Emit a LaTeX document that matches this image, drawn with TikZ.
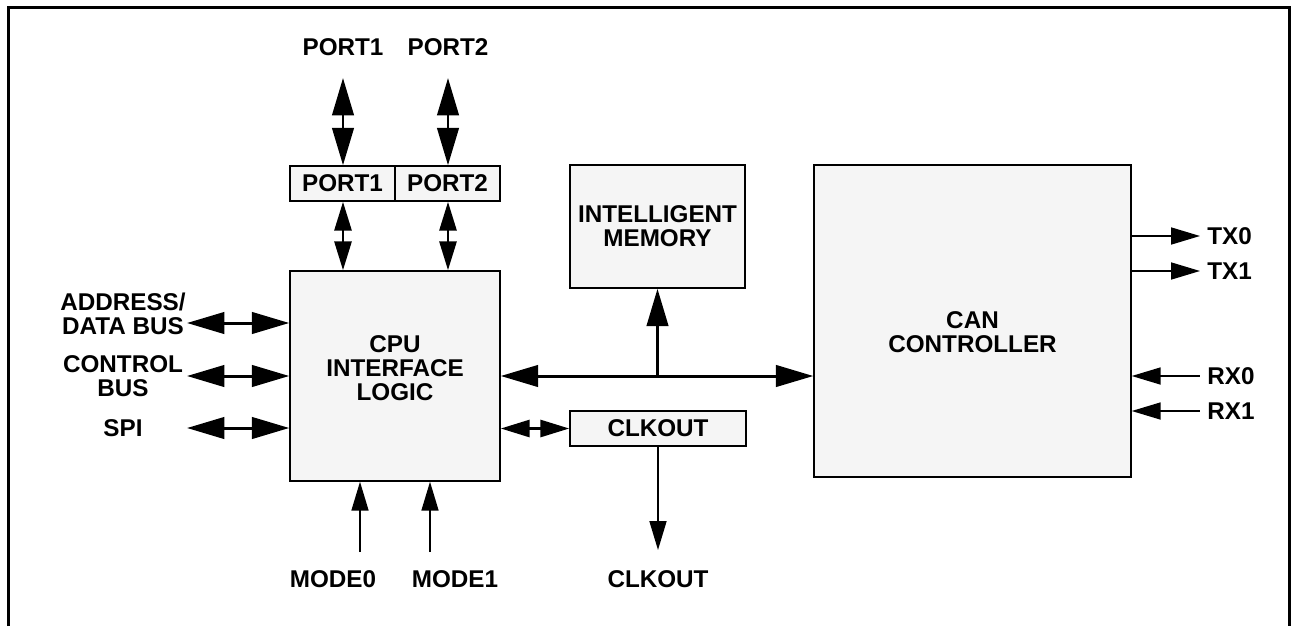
\documentclass[tikz,border=0pt]{standalone}
\usepackage{fontspec}
\setmainfont{Liberation Sans}
\usetikzlibrary{arrows.meta}
\definecolor{boxfill}{RGB}{245,245,245}

\begin{document}
\begin{tikzpicture}[x=0.02cm,y=-0.02cm,
  txt/.style={font=\fontsize{13.8}{13.66}\selectfont\bfseries,align=center,inner sep=0pt},
  blk/.style={txt,draw,line width=0.85pt,fill=boxfill},
  thk/.style={line width=1.7pt},
  thn/.style={line width=1pt},
  Big/.tip={Triangle[length=0.75cm,width=0.43cm]},
  Sml/.tip={Triangle[length=0.58cm,width=0.34cm]}]
\useasboundingbox (0,0) rectangle (1292,626);
\draw[line width=0.06cm] (8.5,626) -- (8.5,7.5) -- (1289.5,7.5) -- (1289.5,626);

\node[blk,minimum width=2.1cm,minimum height=0.7cm] (p1) at (342.5,183.5) {PORT1};
\node[blk,minimum width=2.1cm,minimum height=0.7cm] (p2) at (447.5,183.5) {PORT2};
\node[blk,minimum width=4.2cm,minimum height=4.2cm] (cpu) at (395,376) {};
\node[txt] (cpulbl) at (395,368) {CPU\\INTERFACE\\LOGIC};
\node[blk,minimum width=3.5cm,minimum height=2.46cm] (mem) at (657.5,226.5) {INTELLIGENT\\MEMORY};
\node[blk,minimum width=3.52cm,minimum height=0.7cm] (clk) at (658,428.5) {CLKOUT};
\node[blk,minimum width=6.34cm,minimum height=6.24cm] (can) at (972.5,321) {};
\node[txt] (canlbl) at (972.5,332) {CAN\\CONTROLLER};

\node[txt] (l1) at (343,47) {PORT1};
\node[txt] (l2) at (448,47) {PORT2};
\coordinate (t1) at (343,78);
\coordinate (t2) at (448,78);
\draw[thk,Big-Big] (t1) -- (p1.north -| t1);
\draw[thk,Big-Big] (t2) -- (p2.north -| t2);
\draw[thk,Sml-Sml] (p1.south -| t1) -- (cpu.north -| t1);
\draw[thk,Sml-Sml] (p2.south -| t2) -- (cpu.north -| t2);

\node[txt] (adl) at (123,314) {ADDRESS/\\DATA BUS};
\node[txt] (ctl) at (123,376) {CONTROL\\BUS};
\node[txt] (spil) at (123,428) {SPI};
\coordinate (ad) at (187,323);
\coordinate (ct) at (187,376);
\coordinate (sp) at (187,428);
\foreach \c in {ad,ct,sp}
  \draw[thk,Big-Big] (\c) -- (cpu.west |- \c);

\coordinate (jn) at (mem.south |- cpu.east);
\draw[thk,Big-Big] (cpu.east) -- (can.west |- cpu.east);
\draw[thk,-Big] (jn) -- (mem.south);

\draw[thk,Sml-Sml] (cpu.east |- clk.west) -- (clk.west);
\node[txt] (clkl) at (658,579) {CLKOUT};
\coordinate (ck) at (658,550);
\draw[thn,-Sml] (clk.south) -- (ck);

\node[txt] (m0) at (333,579) {MODE0};
\node[txt] (m1) at (455,579) {MODE1};
\coordinate (m0a) at (360,552);
\coordinate (m1a) at (430,552);
\draw[thn,-Sml] (m0a) -- (cpu.south -| m0a);
\draw[thn,-Sml] (m1a) -- (cpu.south -| m1a);

\foreach \n/\y in {TX0/236,TX1/271} {
  \node[txt,anchor=west] (\n) at (1207,\y) {\n};
  \draw[thn,-Sml] (can.east |- \n.west) -- ([xshift=-0.14cm]\n.west);
}
\foreach \n/\y in {RX0/376,RX1/411} {
  \node[txt,anchor=west] (\n) at (1207,\y) {\n};
  \draw[thn,Sml-] (can.east |- \n.west) -- ([xshift=-0.14cm]\n.west);
}
\end{tikzpicture}
\end{document}
